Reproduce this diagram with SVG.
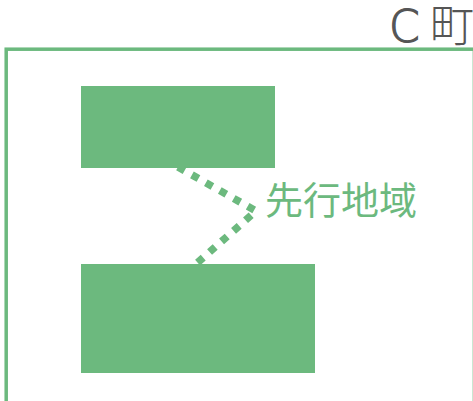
<svg xmlns="http://www.w3.org/2000/svg" width="473" height="401" viewBox="0 0 473 401">
<style>
.frame{fill:none;stroke:#6cb97e;stroke-width:3.5}
.node{fill:#6cb97e}
.conn{fill:none;stroke:#6cb97e;stroke-width:7.5;stroke-dasharray:7.5 8.5}
.title{font-family:"DejaVu Sans","Noto Sans CJK JP",sans-serif;font-weight:200;font-size:44px;fill:#555555;stroke:#555555;stroke-width:1.2}
.cjk{font-family:"Noto Sans CJK JP",sans-serif;font-weight:300;stroke:none}
.label{font-family:"Noto Sans CJK JP",sans-serif;font-size:38px;fill:#6cb97e}
</style>
<rect width="473" height="401" fill="#ffffff"/>
<g id="town">
<rect class="frame" x="6.2" y="49.2" width="468.2" height="370"/>
<text class="title" x="389" y="42">C<tspan class="cjk" x="430">町</tspan></text>
</g>
<g id="area-top"><rect class="node" x="81" y="86" width="194" height="82"/></g>
<g id="area-bottom"><rect class="node" x="81" y="264" width="234" height="109"/></g>
<g id="connectors">
<polyline class="conn" points="178,167 256,211 196,264"/>
</g>
<g id="label"><text class="label" x="265" y="214">先行地域</text></g>
</svg>
